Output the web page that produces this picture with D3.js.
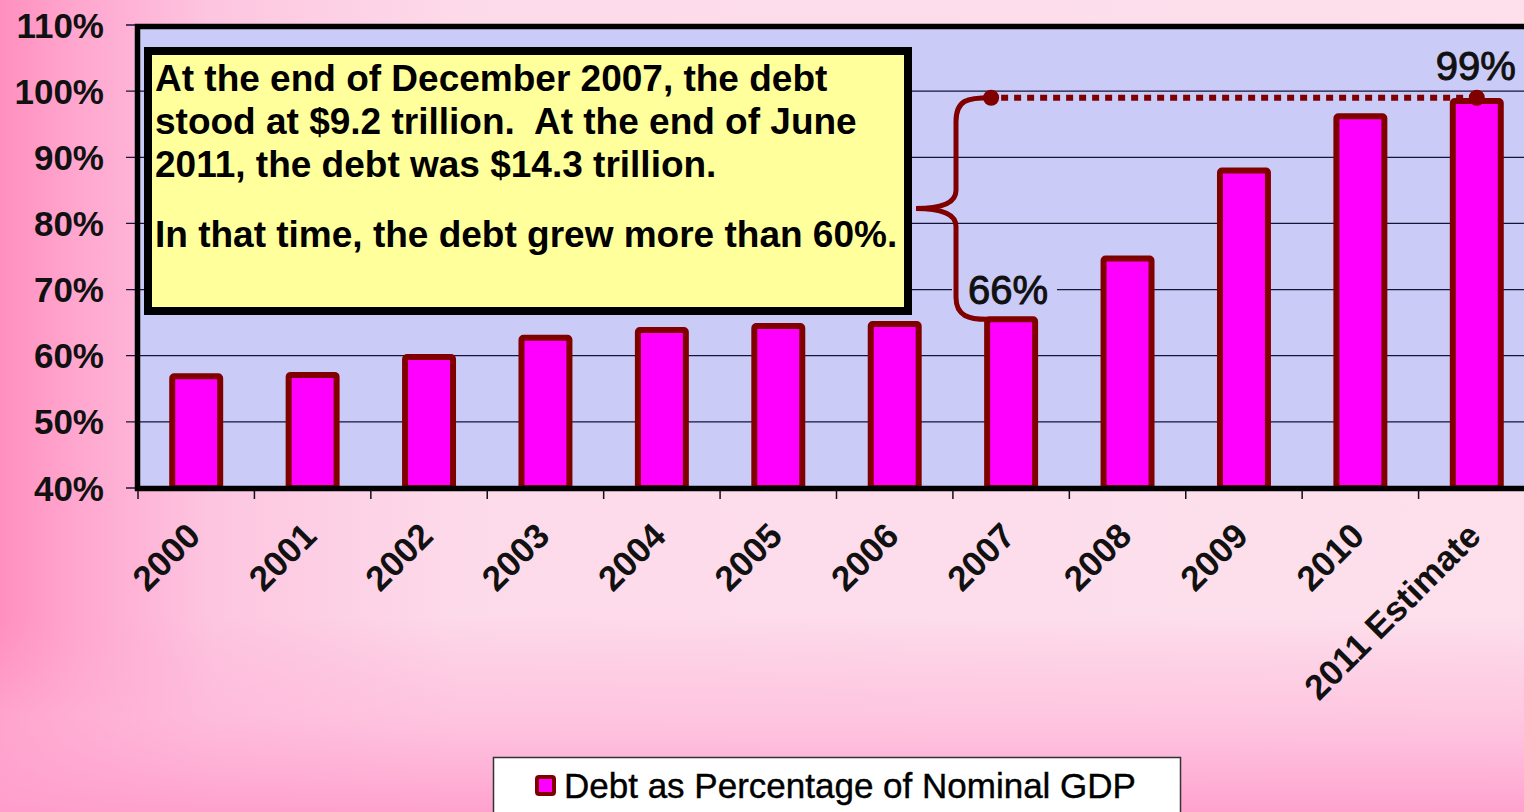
<!DOCTYPE html>
<meta charset="utf-8">
<style>
body { margin: 0; }
svg { display: block; font-family: "Liberation Sans", Arial, sans-serif; }
</style>
<body>
<script src="https://d3js.org/d3.v7.min.js"></script>
<script>

// Chart data
const years = ['2000', '2001', '2002', '2003', '2004', '2005', '2006', '2007', '2008', '2009', '2010', '2011 Estimate']
const debtPct = [56.9, 57.1, 59.8, 62.7, 63.9, 64.5, 64.8, 65.5, 74.7, 88.0, 96.2, 98.5]
const yTicks = [40, 50, 60, 70, 80, 90, 100, 110]
const seriesName = 'Debt as Percentage of Nominal GDP'
const noteLines = [
  'At the end of December 2007, the debt',
  'stood at $9.2 trillion.  At the end of June',
  '2011, the debt was $14.3 trillion.',
  'In that time, the debt grew more than 60%.'
]

const width = 1524
const height = 812
const plotLeft = 138, plotRight = 1535, plotTop = 25, plotBottom = 488

const plotFill = '#cbcbf8'
const barFill = '#ff00ff'
const darkRed = '#800000'

const svg = d3.select('body').append('svg')
  .attr('width', width)
  .attr('height', height)

// Background gradients
const defs = svg.append('defs')
const hGrad = defs.append('linearGradient').attr('id', 'bgH')
  .attr('x1', 0).attr('x2', 1).attr('y1', 0).attr('y2', 0)
hGrad.selectAll('stop')
  .data([[0, '#ff8fbe'], [0.05, '#ffa6cf'], [0.14, '#fdc6e0'], [0.3, '#fddaea'], [1, '#fde0ec']])
  .join('stop')
  .attr('offset', d => d[0])
  .attr('stop-color', d => d[1])
const vGrad = defs.append('linearGradient').attr('id', 'bgV')
  .attr('x1', 0).attr('x2', 0).attr('y1', 0).attr('y2', 1)
vGrad.selectAll('stop')
  .data([[0, '#ffa8d2', 0], [0.76, '#ffa8d2', 0], [0.88, '#ffb4d8', 0.55], [1, '#ff9ecc', 0.95]])
  .join('stop')
  .attr('offset', d => d[0])
  .attr('stop-color', d => d[1])
  .attr('stop-opacity', d => d[2])

svg.append('rect').attr('width', width).attr('height', height).attr('fill', 'url(#bgH)')
svg.append('rect').attr('width', width).attr('height', height).attr('fill', 'url(#bgV)')

// Scales
const x = d3.scaleBand()
  .domain(years)
  .range([plotLeft, plotRight])
  .paddingInner(0.588)
  .paddingOuter(0.294)

const y = d3.scaleLinear()
  .domain([40, 110])
  .range([plotBottom, plotTop])

// Plot area
svg.append('rect')
  .attr('x', plotLeft).attr('y', plotTop)
  .attr('width', plotRight - plotLeft).attr('height', plotBottom - plotTop)
  .attr('fill', plotFill)

// Gridlines and y ticks
svg.append('g')
  .selectAll('line')
  .data(yTicks)
  .join('line')
  .attr('x1', plotLeft - 12).attr('x2', plotRight)
  .attr('y1', d => y(d)).attr('y2', d => y(d))
  .attr('stroke', '#15153a')
  .attr('stroke-width', 1.3)

// Y labels
svg.append('g')
  .selectAll('text')
  .data(yTicks)
  .join('text')
  .attr('x', 104)
  .attr('y', d => y(d))
  .attr('dy', '0.36em')
  .attr('text-anchor', 'end')
  .attr('font-size', 35)
  .attr('font-weight', 'bold')
  .attr('fill', '#111')
  .text(d => d + '%')

// Label backgrounds that break the gridlines
const fmt = d => Math.round(d) + '%'
const i07 = years.indexOf('2007')
const iLast = years.length - 1
const cx = i => x(years[i]) + x.bandwidth() / 2

const callouts = [
  { i: i07, tx: cx(i07) - 3, ty: y(70), bx0: 952, bx1: 1057 },
  { i: iLast, tx: cx(iLast) - 1, ty: y(103.8), bx0: 1425, bx1: 1521 }
]
svg.append('g')
  .selectAll('rect')
  .data(callouts)
  .join('rect')
  .attr('x', d => d.bx0)
  .attr('y', d => d.ty - 14)
  .attr('width', d => d.bx1 - d.bx0)
  .attr('height', 28)
  .attr('fill', plotFill)

// Bars
svg.append('g')
  .selectAll('rect')
  .data(debtPct)
  .join('rect')
  .attr('x', (d, i) => x(years[i]))
  .attr('y', d => y(d))
  .attr('width', x.bandwidth())
  .attr('height', d => y(40) - y(d))
  .attr('rx', 2)
  .attr('fill', barFill)
  .attr('stroke', darkRed)
  .attr('stroke-width', 6)

// Plot frame
svg.append('rect')
  .attr('x', plotLeft - 0.5).attr('y', plotTop + 1.5)
  .attr('width', plotRight - plotLeft + 10).attr('height', plotBottom - plotTop - 1)
  .attr('fill', 'none')
  .attr('stroke', '#000')
  .attr('stroke-width', 5.5)

// X ticks at band edges
const step = x.step()
svg.append('g')
  .selectAll('line')
  .data(d3.range(years.length + 1))
  .join('line')
  .attr('x1', i => plotLeft + i * step).attr('x2', i => plotLeft + i * step)
  .attr('y1', plotBottom + 2).attr('y2', plotBottom + 11)
  .attr('stroke', '#111')
  .attr('stroke-width', 1.5)

// X labels
svg.append('g')
  .selectAll('text')
  .data(years)
  .join('text')
  .attr('transform', (d, i) => `translate(${cx(i) + 6},${plotBottom + 50}) rotate(-45)`)
  .attr('text-anchor', 'end')
  .attr('font-size', 35)
  .attr('font-weight', 'bold')
  .attr('fill', '#111')
  .text(d => d)

// Note box
const note = svg.append('g')
note.append('rect')
  .attr('x', 148).attr('y', 51)
  .attr('width', 760).attr('height', 260)
  .attr('fill', '#ffff9c')
  .attr('stroke', '#000')
  .attr('stroke-width', 8)
note.selectAll('text')
  .data(noteLines)
  .join('text')
  .attr('x', 155)
  .attr('y', (d, i) => [91, 134, 177, 247][i])
  .attr('font-size', 37)
  .attr('font-weight', 'bold')
  .attr('fill', '#000')
  .attr('xml:space', 'preserve')
  .style('white-space', 'pre')
  .text(d => d)

// Brace from 2007 bar up to the 2011 level
const yTop = y(99)
const yBot = y(debtPct[i07])
const xStart = cx(i07) - 20
const xEnd = x(years[i07])
const xSpine = 956
const xTip = 916
const yMid = (yTop + yBot) / 2
const brace = d3.path()
brace.moveTo(xStart, yTop)
brace.bezierCurveTo(xStart - 24, yTop, xSpine, yTop + 2, xSpine, yTop + 24)
brace.lineTo(xSpine, yMid - 18)
brace.bezierCurveTo(xSpine, yMid - 5, xTip + 24, yMid, xTip, yMid)
brace.bezierCurveTo(xTip + 24, yMid, xSpine, yMid + 5, xSpine, yMid + 18)
brace.lineTo(xSpine, yBot - 22)
brace.bezierCurveTo(xSpine, yBot - 3, xEnd - 18, yBot, xEnd, yBot)
svg.append('path')
  .attr('d', brace.toString())
  .attr('fill', 'none')
  .attr('stroke', darkRed)
  .attr('stroke-width', 5)

// Dotted level line
svg.append('line')
  .attr('x1', xStart + 10).attr('x2', cx(iLast))
  .attr('y1', yTop).attr('y2', yTop)
  .attr('stroke', darkRed)
  .attr('stroke-width', 6)
  .attr('stroke-dasharray', '7,6')

svg.append('g')
  .selectAll('circle')
  .data([xStart, cx(iLast)])
  .join('circle')
  .attr('cx', d => d)
  .attr('cy', yTop)
  .attr('r', 8)
  .attr('fill', darkRed)

// Callout texts
svg.append('g')
  .selectAll('text')
  .data(callouts)
  .join('text')
  .attr('x', d => d.tx)
  .attr('y', d => d.ty)
  .attr('dy', '0.36em')
  .attr('text-anchor', 'middle')
  .attr('font-size', 40)
  .attr('fill', '#111')
  .attr('stroke', '#111')
  .attr('stroke-width', 1)
  .text(d => fmt(debtPct[d.i]))

// Legend
const legend = svg.append('g')
legend.append('rect')
  .attr('x', 493.5).attr('y', 757.5)
  .attr('width', 687).attr('height', 70)
  .attr('fill', '#fff')
  .attr('stroke', '#333')
  .attr('stroke-width', 1.5)
legend.append('rect')
  .attr('x', 537).attr('y', 777)
  .attr('width', 17).attr('height', 17)
  .attr('rx', 2)
  .attr('fill', barFill)
  .attr('stroke', darkRed)
  .attr('stroke-width', 4)
legend.append('text')
  .attr('x', 564)
  .attr('y', 798)
  .attr('font-size', 35)
  .attr('fill', '#000')
  .attr('stroke', '#000')
  .attr('stroke-width', 0.4)
  .text(seriesName)

</script>
</body>
